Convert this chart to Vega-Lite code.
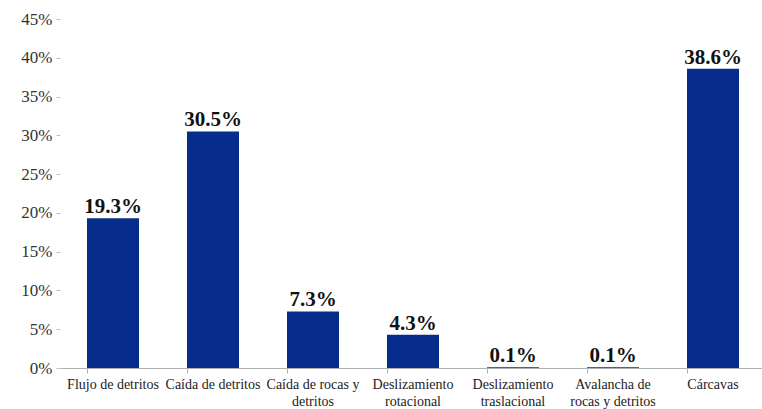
{
  "$schema": "https://vega.github.io/schema/vega-lite/v6.json",
  "width": 706,
  "height": 349,
  "autosize": {"type": "none"},
  "padding": {"left": 60, "top": 19, "right": 0, "bottom": 41},
  "background": "white",
  "config": {"view": {"stroke": null}, "font": "'Liberation Serif', 'DejaVu Serif', serif"},
  "data": {
    "values": [
      {"tipo": "Flujo de detritos", "valor": 19.3, "etiqueta": "19.3%"},
      {"tipo": "Caída de detritos", "valor": 30.5, "etiqueta": "30.5%"},
      {"tipo": "Caída de rocas y|detritos", "valor": 7.3, "etiqueta": "7.3%"},
      {"tipo": "Deslizamiento|rotacional", "valor": 4.3, "etiqueta": "4.3%"},
      {"tipo": "Deslizamiento|traslacional", "valor": 0.1, "etiqueta": "0.1%"},
      {"tipo": "Avalancha de|rocas y detritos", "valor": 0.1, "etiqueta": "0.1%"},
      {"tipo": "Cárcavas", "valor": 38.6, "etiqueta": "38.6%"}
    ]
  },
  "encoding": {
    "x": {
      "field": "tipo", "type": "nominal", "sort": null,
      "scale": {"paddingInner": 0.48, "paddingOuter": 0.27},
      "axis": {
        "title": null, "labelAngle": 0, "labelExpr": "split(datum.label, '|')",
        "labelFont": "'Liberation Serif', 'DejaVu Serif', serif", "labelFontSize": 14, "labelColor": "#222",
        "labelLineHeight": 17, "labelPadding": 4,
        "domainColor": "#b0b0b0", "tickColor": "#b0b0b0", "tickSize": 5,
        "bandPosition": 0, "labelBaseline": "top"
      }
    },
    "y": {
      "field": "valor", "type": "quantitative",
      "scale": {"domain": [0, 45], "nice": false},
      "axis": {
        "title": null, "values": [0,5,10,15,20,25,30,35,40,45],
        "labelExpr": "datum.value + '%'", "grid": false, "domain": false,
        "labelFont": "'Liberation Serif', 'DejaVu Serif', serif", "labelFontSize": 17, "labelColor": "#333",
        "tickColor": "#c0c0c0", "tickSize": 4, "labelPadding": 4
      }
    }
  },
  "layer": [
    {"mark": {"type": "bar", "color": "#062C8C"}},
    {
      "mark": {"type": "text", "dy": -11, "font": "'Liberation Serif', 'DejaVu Serif', serif", "fontSize": 21, "fontWeight": "bold", "color": "#111"},
      "encoding": {"text": {"field": "etiqueta", "type": "nominal"}, "y": {"field": "valor", "type": "quantitative"}}
    }
  ]
}
